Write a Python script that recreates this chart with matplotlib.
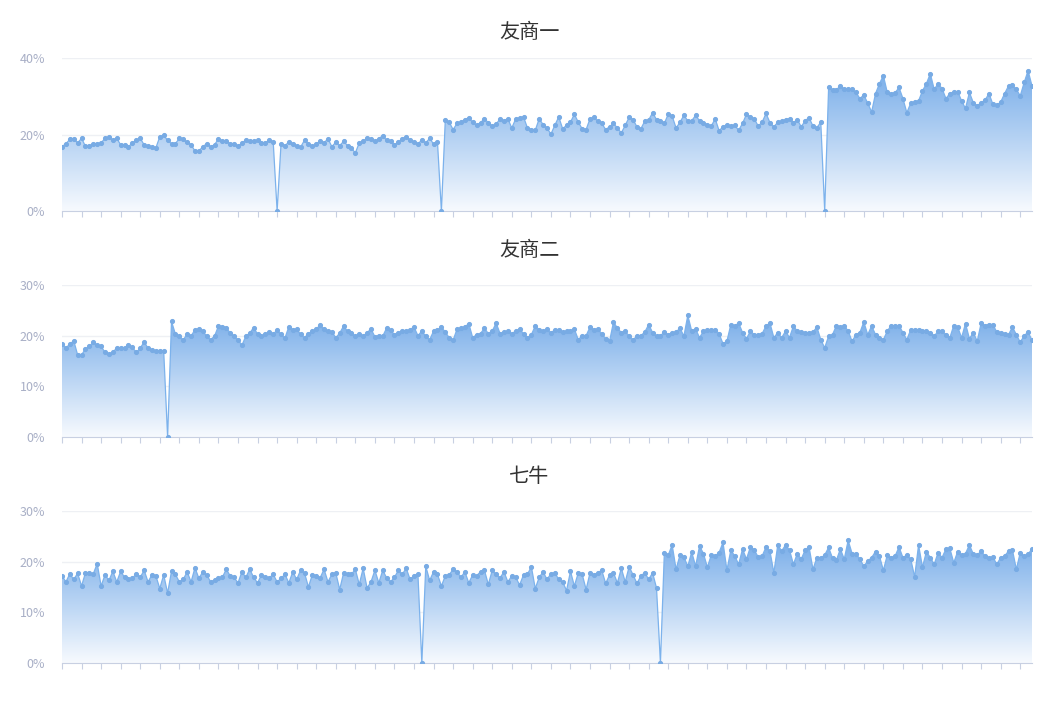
import numpy as np
import matplotlib.pyplot as plt
from matplotlib.colors import LinearSegmentedColormap

plt.rcParams['font.family'] = ['Noto Sans CJK SC', 'DejaVu Sans']

titles = ['友商一', '友商二', '七牛']

# 友商一 (percent)
vendor1 = [
    16.8, 17.6, 18.7, 18.9, 17.8, 19.0, 16.9, 16.9, 17.6, 17.6, 17.8, 19.0, 19.3, 18.5, 19.0, 17.3, 17.3, 16.8,
    17.8, 18.5, 19.0, 17.3, 16.9, 16.8, 16.5, 19.4, 19.8, 18.5, 17.6, 17.6, 19.0, 18.7, 18.0, 17.3, 15.7, 15.7,
    16.8, 17.6, 16.8, 17.3, 18.9, 18.2, 18.2, 17.6, 17.6, 16.9, 17.8, 18.5, 18.2, 18.2, 18.5, 17.8, 17.8, 18.5, 18.1,
    0.0,
    17.6, 17.1, 18.0, 17.6, 16.9, 16.7, 18.5, 17.6, 16.9, 17.5, 18.3, 17.8, 18.9, 16.8, 18.0, 17.1, 18.2, 17.1,
    16.4, 15.2, 17.8, 18.3, 19.0, 18.9, 18.2, 18.9, 19.7, 18.5, 18.2, 17.3, 18.0, 18.9, 19.4, 18.5, 18.0, 17.6,
    18.5, 17.8, 19.0, 17.5, 18.0,
    0.0,
    23.9, 23.2, 21.3, 22.9, 23.2, 23.9, 24.4, 23.2, 22.4, 23.1, 24.1, 23.1, 22.2, 22.7, 24.1, 23.6, 24.1, 21.7,
    24.1, 24.3, 24.6, 21.7, 21.3, 21.1, 24.1, 22.6, 21.7, 20.1, 22.4, 24.6, 21.5, 22.4, 23.2, 25.3, 23.2, 21.5,
    21.3, 24.1, 24.5, 23.5, 22.9, 21.3, 22.0, 22.9, 21.7, 20.4, 22.4, 24.5, 23.9, 22.0, 21.5, 23.5, 23.8, 25.7,
    23.9, 23.5, 22.9, 25.3, 24.8, 21.7, 23.2, 25.0, 23.6, 23.6,
    25.0, 23.6, 22.9, 22.6, 22.2, 24.1, 21.0, 22.0, 22.5, 22.2, 22.4, 21.1, 22.9, 25.3, 24.6, 24.1, 22.2, 23.2,
    25.5, 23.1, 22.0, 23.2, 23.5, 23.9, 24.1, 23.1, 23.9, 22.0, 23.6, 24.4, 22.2, 21.8, 23.2,
    0.0,
    32.3, 31.7, 31.7, 32.7, 31.8, 32.0, 31.8, 31.0, 29.4, 30.3, 28.2, 25.9, 30.7, 33.3, 35.4, 31.0, 30.7, 30.9,
    32.3, 29.4, 25.7, 28.2, 28.5, 28.8, 31.4, 33.3, 35.9, 31.8, 33.3, 32.0, 29.4, 30.7, 31.1, 31.2, 28.8, 26.8,
    31.0, 28.3, 27.5, 28.3, 29.0, 30.7, 27.9, 27.6, 28.5, 30.7, 32.7, 32.9, 31.8, 30.1, 33.6, 36.7, 32.7,
]

# 友商二 (percent)
vendor2 = [
    18.4, 17.6, 18.3, 19.0, 16.2, 16.2, 17.4, 17.9, 18.7, 18.1, 17.9, 16.7, 16.4, 16.7, 17.6, 17.6, 17.5, 18.1,
    17.7, 16.7, 17.5, 18.8, 17.5, 17.2, 17.0, 17.0, 17.0,
    0.0,
    22.8, 20.3, 19.9, 19.1, 20.4, 19.9, 21.2, 21.3, 20.9, 19.9, 19.2, 19.9, 21.9, 21.8, 21.6, 20.5, 19.9, 19.2,
    18.1, 19.9, 20.5, 21.6, 20.3, 19.9, 20.3, 20.8, 20.3, 21.1, 20.3, 19.5, 21.8, 21.2, 21.3, 20.3, 19.6, 20.4,
    20.9, 21.3, 22.1, 21.3, 20.9, 20.8, 19.6, 20.5, 21.9, 20.9, 20.5, 19.9, 20.4,
    19.9, 20.6, 21.3, 19.8, 20.0, 19.9, 21.5, 21.1, 20.2, 20.6, 20.9, 20.9, 21.2, 21.7, 20.0, 20.9, 19.9, 19.2,
    20.9, 21.1, 21.7, 20.7, 19.6, 19.1, 21.3, 21.5, 21.7, 22.4, 19.6, 20.2, 20.4, 21.5, 20.4, 20.9, 22.5, 20.4,
    20.7, 20.9, 20.4, 20.9, 21.3, 20.4, 19.6, 20.2, 21.9, 21.2, 20.9, 21.3, 20.6, 21.1, 21.1, 20.7, 20.9, 20.9,
    21.3, 19.2, 20.0, 20.0, 21.7, 21.2, 21.3, 20.4, 19.4, 18.9, 22.7, 21.5, 20.6, 20.9, 19.9, 19.2, 19.9, 20.0,
    20.7, 22.2, 20.6, 19.9, 20.0, 20.7, 20.2, 20.6, 20.7, 21.5, 19.9, 24.0, 20.9, 21.3, 19.6,
    20.9, 21.1, 21.2, 21.2, 20.4, 18.4, 18.9, 22.2, 21.9, 22.5, 20.6, 19.4, 20.9, 20.2, 20.2, 20.4, 21.9, 22.5,
    19.6, 20.6, 19.6, 20.9, 19.6, 21.9, 20.9, 20.7, 20.6, 20.6, 20.7, 21.7, 19.2, 17.6, 19.9, 20.2, 22.0, 21.7,
    22.0, 20.9, 18.9, 20.2, 20.6, 22.7, 20.2, 21.9, 20.2, 19.6, 19.2, 20.9, 22.0, 21.9, 22.0, 20.6, 19.2, 21.2,
    21.1, 21.2, 20.9, 20.9, 20.6, 19.9, 20.9, 20.9, 20.2, 19.6, 22.0, 21.7, 19.6, 22.4, 19.4, 20.6, 18.9, 22.5,
    22.0, 22.2, 22.2, 20.7, 20.6, 20.4, 20.2, 21.7, 20.2, 18.7, 20.0, 20.7, 19.1,
]

# 七牛 (percent)
qiniu = [
    17.2, 16.0, 17.6, 16.5, 17.7, 15.2, 17.8, 17.7, 17.6, 19.6, 15.2, 17.4, 16.3, 18.1, 16.0, 18.1, 16.9, 16.5,
    16.7, 17.6, 16.9, 18.3, 16.0, 17.4, 17.2, 14.7, 17.4, 13.8, 18.1, 17.5, 16.0, 16.5, 18.0, 16.0, 18.8, 16.7,
    18.0, 17.4, 16.0, 16.3, 16.7, 16.9, 18.5, 17.2, 16.9, 15.8, 18.0, 16.9, 18.5, 16.9, 15.8, 17.4, 16.9, 16.8,
    17.5, 16.0, 16.7, 17.5, 15.8, 18.0, 16.5, 18.3, 17.8, 15.0, 17.4, 17.2, 16.8, 18.5, 16.0, 17.5, 17.8, 14.5,
    17.8, 17.5, 17.5, 18.5,
    15.5, 18.7, 14.8, 16.0, 18.3, 15.8, 18.3, 16.8, 16.0, 16.9, 18.3, 17.5, 18.7, 16.5, 17.2, 17.6,
    0.0,
    19.1, 16.3, 18.0, 17.5, 15.2, 17.2, 17.4, 18.5, 18.0, 16.9, 18.0, 15.8, 17.4, 17.2, 18.0, 18.3, 15.5, 18.3,
    17.5, 16.8, 18.0, 16.0, 17.2, 16.9, 15.4, 17.4, 17.5, 19.0, 14.7, 16.9, 18.0, 16.5, 17.6, 17.8, 16.5, 16.0,
    14.3, 18.1, 15.2, 17.8, 17.5, 14.5, 17.8, 17.4, 17.8, 18.3, 15.7, 17.4, 17.8, 15.8, 18.7, 16.0, 19.0, 17.4,
    15.7, 17.2, 17.8, 16.5, 17.8, 14.8,
    0.0,
    21.7, 21.3, 23.3, 18.5, 21.3, 20.9, 19.1, 21.9, 19.1, 23.1,
    21.6, 18.9, 21.3, 21.1, 21.8, 23.8, 18.3, 22.3, 21.1, 19.5, 22.5, 20.5, 22.9, 22.3, 20.9, 21.1, 22.9, 22.1,
    17.8, 23.3, 22.1, 23.3, 22.3, 19.5, 21.6, 20.5, 22.3, 22.9, 18.5, 20.8, 20.7, 21.3, 22.8, 20.7, 20.3, 22.5,
    20.5, 24.2, 21.6, 21.6, 20.5, 19.1, 20.1, 20.8, 22.0, 21.1, 18.3, 21.3, 20.8, 21.1, 22.9, 20.8, 21.3, 20.5,
    17.0, 23.3, 18.9, 22.0, 20.8, 19.5, 21.8, 20.8, 22.5, 22.6, 19.8, 22.0, 21.3, 21.6, 23.3, 21.5, 21.3, 22.1,
    21.1, 20.8, 20.9, 19.5, 20.8, 21.1, 22.1, 22.3, 18.5, 21.8, 21.1, 21.5, 22.5,
]

series = [vendor1, vendor2, qiniu]
y_ticks = [[0, 20, 40], [0, 10, 20, 30], [0, 10, 20, 30]]

# axes placement in figure coords (from pixel positions of the reference)
W, H = 1058, 704
boxes = [(58, 211), (285, 437), (511, 663)]
title_y = [32, 250, 477]
x_left, x_right = 62, 1032

line_color = '#7cb2ec'
cmap = LinearSegmentedColormap.from_list('fade', ['#f7fafe', '#78ade9'])

fig = plt.figure(figsize=(W / 100, H / 100), dpi=100)

for vals, ticks, (top, bottom), ty, title in zip(series, y_ticks, boxes, title_y, titles):
    ax = fig.add_axes([x_left / W, 1 - bottom / H, (x_right - x_left) / W, (bottom - top) / H])
    y = np.array(vals)
    x = np.arange(len(y))

    # gradient area fill clipped to the area under the line
    poly = ax.fill_between(x, y, 0, color='none', lw=0)
    grad = np.linspace(0, 1, 256).reshape(-1, 1)
    im = ax.imshow(grad, extent=[0, len(y) - 1, 0, y.max()], origin='lower',
                   aspect='auto', cmap=cmap, zorder=1)
    im.set_clip_path(poly.get_paths()[0], transform=ax.transData)

    ax.plot(x, y, color=line_color, lw=0.9, zorder=3)
    ax.plot(x, y, 'o', ms=2.7, color='#78abe4', zorder=4)

    ax.set_xlim(0, len(y) - 1)
    ax.set_ylim(0, ticks[-1])
    ax.set_yticks(ticks)
    ax.set_yticklabels([f'{t}%' for t in ticks])
    ax.set_xticks(np.arange(0, len(y), 5))
    ax.set_xticklabels([])
    ax.grid(axis='y', color='#eef0f4', lw=1, zorder=0)
    ax.set_axisbelow(True)
    for s in ['top', 'right', 'left']:
        ax.spines[s].set_visible(False)
    ax.spines['bottom'].set_color('#c8d0e2')
    ax.tick_params(axis='x', length=4, color='#c8d0e2', direction='out')
    ax.tick_params(axis='y', length=0, pad=12, labelsize=9, labelcolor='#a8afc6')
    ax.set_facecolor('none')

    fig.text(529 / W, 1 - ty / H, title, ha='center', va='center', fontsize=14.5, color='#333333')

fig.savefig('out.png', dpi=100, facecolor='white')
